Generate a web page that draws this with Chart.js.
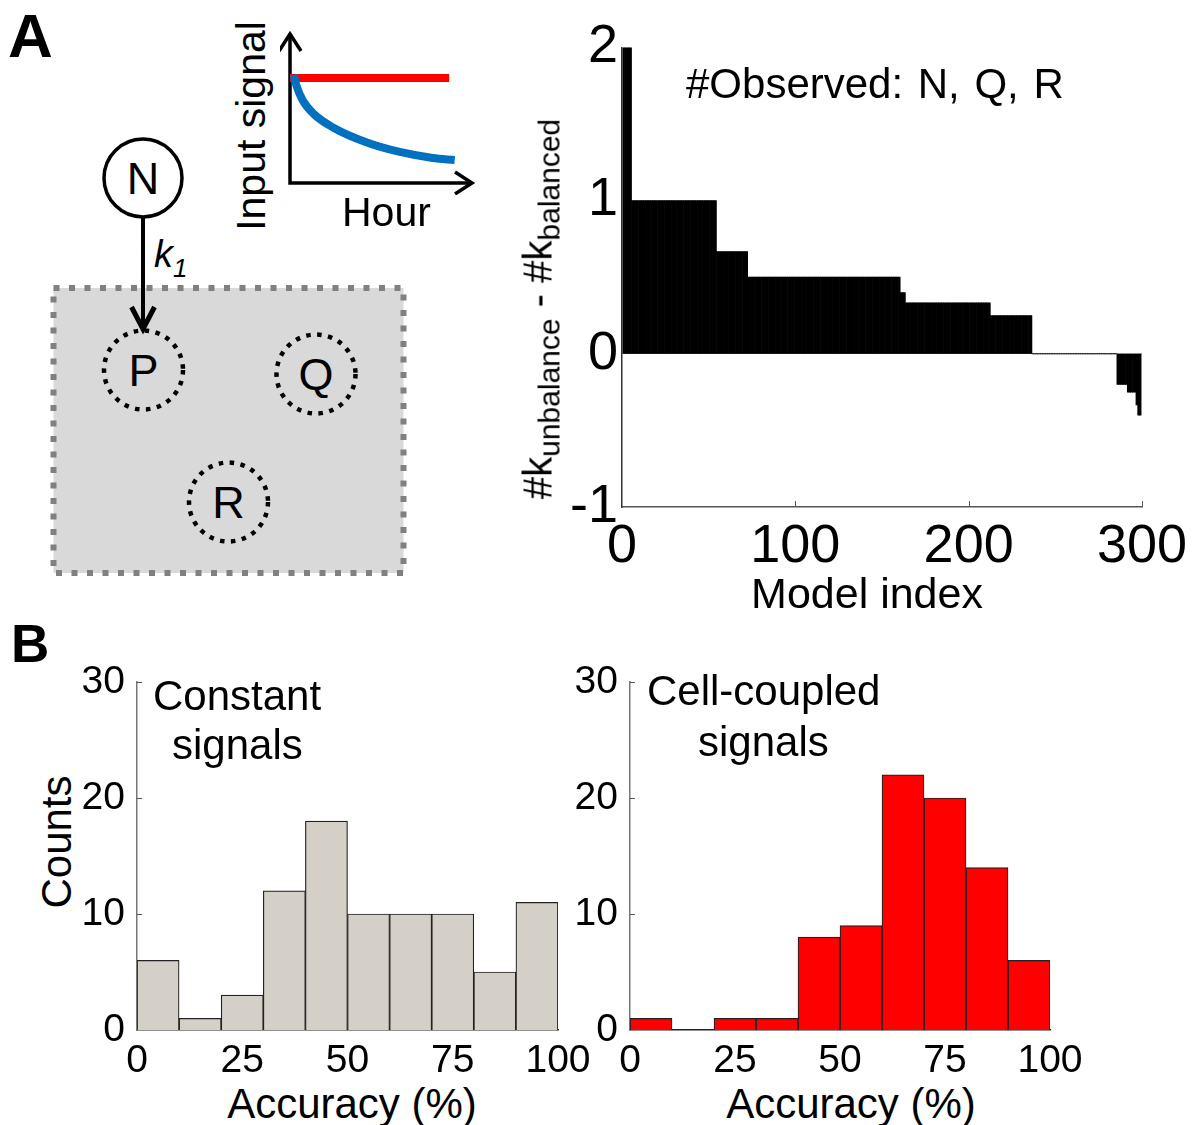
<!DOCTYPE html>
<html>
<head>
<meta charset="utf-8">
<script src="https://cdn.jsdelivr.net/npm/chart.js@4/dist/chart.umd.min.js"></script>
<style>
  body { margin: 0; background: #fff; width: 1193px; height: 1125px; position: relative; overflow: hidden;
         font-family: "Liberation Sans", Arial, sans-serif; color: #000; }
  .box { position: absolute; }
  .txt { position: absolute; line-height: 1; white-space: nowrap; }
  .mid { transform: translateX(-50%); }
  .rot { position: absolute; line-height: 1; white-space: nowrap; transform: translate(-50%, -50%) rotate(-90deg); }
  .sub { font-size: 30px; vertical-align: -8px; }
</style>
</head>
<body>

<!-- network diagram -->
<svg class="box" style="left:0;top:0" width="480" height="600">
  <rect x="53.5" y="288" width="350" height="285" fill="#d9d9d9" stroke="#808080" stroke-width="6" stroke-dasharray="6 9.5"/>
  <circle cx="143" cy="178" r="39" fill="none" stroke="#000" stroke-width="3.5"/>
  <text x="143" y="194" font-size="45" text-anchor="middle" font-family="Liberation Sans, Arial">N</text>
  <line x1="143" y1="217" x2="143" y2="328" stroke="#000" stroke-width="4"/>
  <polyline points="131.5,307 143,329 154.5,307" fill="none" stroke="#000" stroke-width="5"/>
  <circle cx="143.5" cy="370" r="39.5" fill="none" stroke="#000" stroke-width="4.5" stroke-dasharray="4.5 6.5"/>
  <text x="143.5" y="386" font-size="45" text-anchor="middle" font-family="Liberation Sans, Arial">P</text>
  <circle cx="316" cy="374" r="39.5" fill="none" stroke="#000" stroke-width="4.5" stroke-dasharray="4.5 6.5"/>
  <text x="316" y="390" font-size="45" text-anchor="middle" font-family="Liberation Sans, Arial">Q</text>
  <circle cx="228.5" cy="502" r="39.5" fill="none" stroke="#000" stroke-width="4.5" stroke-dasharray="4.5 6.5"/>
  <text x="228.5" y="518" font-size="45" text-anchor="middle" font-family="Liberation Sans, Arial">R</text>
</svg>
<div class="txt" style="left:154px;top:235px;font-size:38px;font-style:italic">k<span style="font-size:26px;vertical-align:-10px">1</span></div>

<!-- panel letters -->
<div class="txt" style="left:8px;top:5px;font-size:62px;font-weight:bold">A</div>
<div class="txt" style="left:11px;top:617px;font-size:53px;font-weight:bold">B</div>

<!-- inset signal plot -->
<div class="box" style="left:280px;top:20px;width:200px;height:175px"><canvas id="signal" width="200" height="175"></canvas></div>
<div class="rot" style="left:251px;top:126px;font-size:41px">Input signal</div>
<div class="txt" style="left:342px;top:192px;font-size:41px">Hour</div>

<!-- model index bar chart -->
<div class="box" style="left:560px;top:11px;width:633px;height:569px"><canvas id="models" width="633" height="569"></canvas></div>
<div class="rot" style="left:541px;top:309px;font-size:40px">#k<span class="sub">unbalance</span> - #k<span class="sub">balanced</span></div>
<div class="txt" style="left:686px;top:63px;font-size:42px;word-spacing:3px">#Observed: N, Q, R</div>
<div class="txt mid" style="left:867px;top:572px;font-size:43px">Model index</div>

<!-- histograms -->
<div class="box" style="left:80px;top:650px;width:520px;height:430px"><canvas id="histConst" width="520" height="430"></canvas></div>
<div class="box" style="left:573px;top:650px;width:620px;height:430px"><canvas id="histCoupled" width="620" height="430"></canvas></div>
<div class="rot" style="left:57px;top:842px;font-size:42px">Counts</div>
<div class="txt" style="left:153px;top:675px;font-size:42px">Constant</div>
<div class="txt" style="left:172px;top:724px;font-size:42px">signals</div>
<div class="txt" style="left:647px;top:670px;font-size:42px">Cell-coupled</div>
<div class="txt" style="left:698px;top:721px;font-size:42px">signals</div>
<div class="txt mid" style="left:352px;top:1083px;font-size:42px">Accuracy (%)</div>
<div class="txt mid" style="left:851px;top:1083px;font-size:42px">Accuracy (%)</div>

<script>
// inset: input signal over time (arbitrary units)
var hourRed = [0, 8.7];
var signalRed = [7.0, 7.0];
var hourBlue = [0.2, 0.35, 0.7, 1.3, 2.35, 4.2, 6.0, 7.8, 9.0];
var signalBlue = [7.2, 6.5, 5.5, 4.6, 3.7, 2.7, 2.07, 1.67, 1.53];

// #k_unbalance - #k_balanced, as runs of equal values over sorted model index
var kLevels = [2, 1, 0.667, 0.5, 0.4, 0.333, 0.25, 0, -0.2, -0.25, -0.333, -0.4];
var kCounts = [5, 49, 18, 88, 3, 49, 24, 49, 6, 5, 1, 2];
var modelTicks = [0, 100, 200, 300];
var kTicks = [-1, 0, 1, 2];

// accuracy histograms
var accBins = [5, 15, 25, 35, 45, 55, 65, 75, 85, 95];
var constantCounts = [6, 1, 3, 12, 18, 10, 10, 10, 5, 11];
var coupledCounts = [1, 0, 1, 1, 8, 9, 22, 20, 14, 6];
var accTicks = [0, 25, 50, 75, 100];
var countTicks = [0, 10, 20, 30];

Chart.defaults.font.family = '"Liberation Sans", Arial, sans-serif';
Chart.defaults.color = '#000';
Chart.defaults.animation = false;

function points(xs, ys) {
  return xs.map(function(x, i) { return { x: x, y: ys[i] }; });
}

function fixedTicks(values) {
  return function(scale) {
    scale.ticks = values.map(function(v) { return { value: v }; });
  };
}

// short tick marks drawn inside the plot area
var innerTicks = {
  id: 'innerTicks',
  afterDatasetsDraw: function(chart, args, opts) {
    var ctx = chart.ctx, a = chart.chartArea;
    ctx.save();
    ctx.strokeStyle = opts.color || '#333';
    ctx.lineWidth = 1;
    (opts.x || []).forEach(function(v) {
      var px = Math.round(chart.scales.x.getPixelForValue(v)) + 0.5;
      ctx.beginPath(); ctx.moveTo(px, a.bottom); ctx.lineTo(px, a.bottom - opts.len); ctx.stroke();
    });
    (opts.y || []).forEach(function(v) {
      var py = Math.round(chart.scales.y.getPixelForValue(v)) + 0.5;
      ctx.beginPath(); ctx.moveTo(a.left, py); ctx.lineTo(a.left + opts.len, py); ctx.stroke();
    });
    ctx.restore();
  }
};

// axes with arrow heads for the inset
var arrowAxes = {
  id: 'arrowAxes',
  beforeDatasetsDraw: function(chart) {
    var ctx = chart.ctx, a = chart.chartArea;
    ctx.save();
    ctx.strokeStyle = '#000';
    ctx.lineWidth = 3.5;
    ctx.beginPath();
    ctx.moveTo(a.left, a.top + 2); ctx.lineTo(a.left, a.bottom); ctx.lineTo(a.right - 2, a.bottom);
    ctx.stroke();
    ctx.beginPath();
    ctx.moveTo(a.left - 11, a.top + 18); ctx.lineTo(a.left, a.top + 1); ctx.lineTo(a.left + 11, a.top + 18);
    ctx.stroke();
    ctx.beginPath();
    ctx.moveTo(a.right - 18, a.bottom - 11); ctx.lineTo(a.right - 1, a.bottom); ctx.lineTo(a.right - 18, a.bottom + 11);
    ctx.stroke();
    ctx.restore();
  }
};

new Chart(document.getElementById('signal'), {
  type: 'line',
  data: {
    datasets: [
      { data: points(hourBlue, signalBlue), borderColor: '#0070c0', borderWidth: 8, pointRadius: 0,
        cubicInterpolationMode: 'monotone', clip: false },
      { data: points(hourRed, signalRed), borderColor: '#ff0000', borderWidth: 8, pointRadius: 0, clip: false }
    ]
  },
  options: {
    responsive: false,
    layout: { padding: { left: 10, right: 7, top: 13, bottom: 12 } },
    plugins: { legend: { display: false }, tooltip: { enabled: false } },
    scales: {
      x: { type: 'linear', min: 0, max: 10, display: false },
      y: { type: 'linear', min: 0, max: 10, display: false }
    }
  },
  plugins: [arrowAxes]
});

// expand the runs into one bar per model
var modelBars = [];
kLevels.forEach(function(level, i) {
  for (var n = 0; n < kCounts[i]; n++) {
    modelBars.push({ x: modelBars.length + 1, y: level });
  }
});

new Chart(document.getElementById('models'), {
  type: 'bar',
  data: {
    datasets: [{
      data: modelBars,
      backgroundColor: '#000',
      borderWidth: 0,
      barPercentage: 1,
      categoryPercentage: 1
    }]
  },
  options: {
    responsive: false,
    layout: { padding: { left: 0, right: 51, top: 0, bottom: 0 } },
    plugins: {
      legend: { display: false },
      tooltip: { enabled: false },
      innerTicks: { x: modelTicks.slice(1), len: 6, color: '#555' }
    },
    scales: {
      x: {
        type: 'linear', min: 0, max: 300, offset: false,
        afterBuildTicks: fixedTicks(modelTicks),
        afterFit: function(s) { s.height = 73; },
        grid: { display: false },
        border: { display: true, color: '#555', width: 1.5 },
        ticks: { font: { size: 54 }, padding: 0, maxRotation: 0 }
      },
      y: {
        min: -1, max: 2,
        afterBuildTicks: fixedTicks(kTicks),
        afterFit: function(s) { s.width = 62; },
        grid: {
          drawTicks: false,
          color: function(c) { return c.tick && c.tick.value === 0 ? '#888' : 'rgba(0,0,0,0)'; }
        },
        border: { display: true, color: '#333', width: 1.5 },
        ticks: { font: { size: 54 }, padding: 4 }
      }
    }
  },
  plugins: [innerTicks]
});

function histogram(id, counts, fill) {
  return new Chart(document.getElementById(id), {
    type: 'bar',
    data: {
      datasets: [{
        data: points(accBins, counts),
        backgroundColor: fill,
        borderColor: '#222',
        borderWidth: 1.2,
        barPercentage: 1,
        categoryPercentage: 1
      }]
    },
    options: {
      responsive: false,
      layout: { padding: { left: 0, right: id === 'histConst' ? 42 : 143, top: 32, bottom: 0 } },
      plugins: {
        legend: { display: false },
        tooltip: { enabled: false },
        innerTicks: { y: countTicks.slice(1), len: 5, color: '#555' }
      },
      scales: {
        x: {
          type: 'linear', min: 0, max: 100, offset: false,
          afterBuildTicks: fixedTicks(accTicks),
          afterFit: function(s) { s.height = 50; },
          grid: { display: false },
          border: { display: true, color: '#222', width: 1.5 },
          ticks: { font: { size: 39 }, padding: 0, maxRotation: 0 }
        },
        y: {
          min: 0, max: 30,
          afterBuildTicks: fixedTicks(countTicks),
          afterFit: function(s) { s.width = 57; },
          grid: { display: false },
          border: { display: true, color: '#777', width: 1.5 },
          ticks: { font: { size: 39 }, padding: 4 }
        }
      }
    },
    plugins: [innerTicks]
  });
}

histogram('histConst', constantCounts, '#d4d0c8');
histogram('histCoupled', coupledCounts, '#ff0000');
</script>
</body>
</html>
